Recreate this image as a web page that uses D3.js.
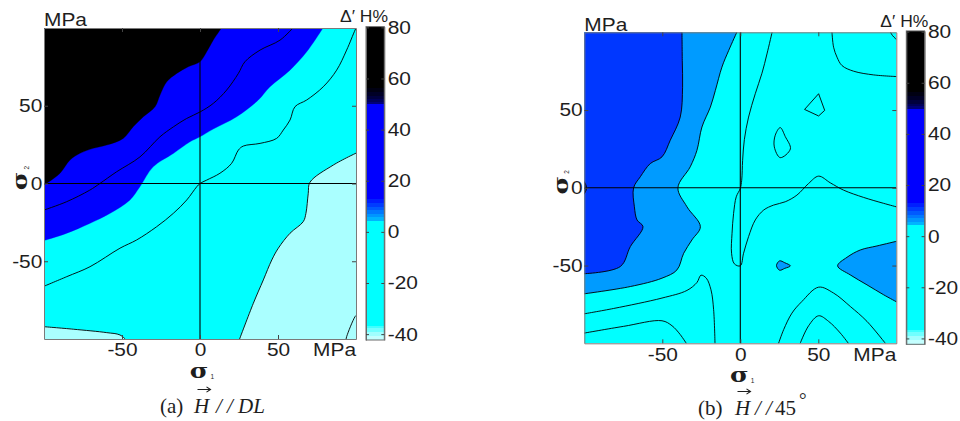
<!DOCTYPE html>
<html>
<head>
<meta charset="utf-8">
<script src="https://cdn.jsdelivr.net/npm/d3@7/dist/d3.min.js"></script>
<style>
html,body{margin:0;padding:0;background:#fff;}
svg{display:block;}
</style>
</head>
<body>
<svg id="chart" width="960" height="421"></svg>
<script>
// ================= DATA (values in MPa / Δ'H %) =================
const sigmaDomain = [-100, 100];
const sigmaTicks = [-50, 0, 50];
const cbarDomain = [-42.3, 80.3];
const cbarTicks = [-40, -20, 0, 20, 40, 60, 80];
// colour-map band limits (Δ'H %) and band colours
const cbarLevels = [-42.3, -40.5, -39, -37.5, -36.5, 4.5, 5.8, 7.2, 8.6, 10, 11.5, 13, 50, 51, 52, 53.5, 55, 56.5, 80.3];
const cbarColors = ['#c4ffff', '#a0ffff', '#70ffff', '#40ffff', '#00ffff', '#00b4ff', '#0096ff', '#0078ff',
                    '#005aff', '#003cff', '#001eff', '#0000ff', '#00007a', '#00005a', '#00003e', '#000026', '#000012', '#000000'];

// ---- panel (a) H // DL : contour boundaries as [sigma1, sigma2] ----
const aBlackEdge = [[-101,-1.5],[-97,1],[-89.7,6.6],[-83.3,15.1],[-76.9,19.4],[-68.4,22.6],[-59.8,24.7],[-49.2,29.0],
  [-42.8,36.5],[-36.3,42.9],[-28.8,49.4],[-25.6,56.9],[-21.3,65.4],[-14.9,70.8],[-7.5,75.1],[0,78.3],[4.3,84.7],[8.5,92.2],[14.5,101]];
const aBlueEdge = [[-101,-37],[-85.7,-32.1],[-70.7,-25.7],[-57.8,-19.3],[-45.0,-10.7],[-38.5,-2.1],[-30.0,10.7],[-17.1,19.3],
  [-6.4,26.8],[0,30.0],[8.5,35],[23.5,42.9],[37.4,53.7],[44.9,62.2],[57.7,72.9],[68.4,84.7],[79.5,101]];
const aLineUpper = [[-101,-17.4],[-85.7,-11.8],[-70.7,-4.3],[-64.2,0],[-53.5,7.5],[-38.5,17.1],[-25.7,30.0],[-17.1,36.4],
  [-8.6,41.8],[0,46.0],[8.5,51.5],[17.1,60.1],[24.6,70.8],[28.8,78.3],[38.5,85.8],[51.3,92.2],[60.5,101]];
const aLineDiag = [[100.5,101],[99.4,98.7],[94.0,85.8],[87.6,72.9],[79.0,62.2],[68.4,53.7],[60.9,49.4],[57.7,40.8],[53.4,34.4],
  [49.1,29.0],[38.5,25.8],[27.8,24.1],[24.6,21.5],[20.3,13.0],[12.8,6.6],[4.3,2.2],[0,0],[-2.1,-2.1],[-8.5,-10.6],[-17.1,-19.2],
  [-27.8,-27.8],[-40.6,-36.3],[-51.3,-41.6],[-70.5,-53.5],[-85.4,-59.9],[-101,-66.5]];
const aLightEdgeR = [[101,20],[85.5,11.9],[70.5,0.8],[69.4,-6.3],[67.9,-19.2],[66.2,-24.5],[57.7,-32],[50.2,-41.6],[46,-49.2],
  [40.6,-62],[34.2,-77],[25,-101]];
const aLightEdgeL = [[-101,-92],[-81.2,-93.7],[-59.8,-95.9],[-51.3,-97.4],[-47,-101]];
const aCornerLine = [[100.5,-84.5],[99.4,-85.6],[94,-98.5],[93.5,-101]];

// ---- panel (b) H // 45° ----
const bDarkEdge = [[-37.4,101],[-37.2,82],[-37.0,64.7],[-38.5,45.5],[-44.9,30.6],[-50.2,19.9],[-57.7,15.6],[-64.1,7.1],
  [-68.4,0],[-67.9,-12.2],[-66.2,-20.7],[-62.4,-25.0],[-70.5,-37.8],[-76.9,-50.6],[-101,-55.3]];
const bMedEdge = [[-1.8,101],[-7.5,88.2],[-11.8,77.6],[-16.0,62.6],[-19.2,51.9],[-24.6,39.1],[-27.8,24.1],[-32.1,13.5],
  [-40.0,0],[-34.2,-12.2],[-25.6,-25.0],[-31.0,-33.5],[-36.3,-42.1],[-40.6,-52.8],[-50.2,-58.1],[-70.5,-63.5],[-101,-68.3]];
const bNavySpot = [[-101,5],[-99.5,3],[-98.6,0],[-99.5,-3],[-101,-5]];
const bMedRight = [[101,-34.2],[87.6,-37.4],[76.9,-40.0],[68.4,-44.7],[62.4,-50.2],[70.5,-56.0],[81.2,-62.4],[91.9,-68.8],[101,-73.8]];
const bMedIsland = [[23.2,-50],[25.2,-47],[28.5,-48.2],[32.1,-50.2],[28.5,-51.8],[25.2,-53]];
const bLine1 = [[20.6,101],[17.1,86.1],[13.9,73.7],[9.6,60.5],[5.3,45.5],[2.6,31.0],[1.5,17.7],[0.9,4.9],[0,-0.4],[-2.6,-5.8],
  [-4.3,-16.5],[-5.3,-29.3],[-5.6,-42.1],[-3.8,-48.9],[0,-50.2],[2.1,-42.1],[5.3,-31.4],[9.6,-20.7],[15.0,-14.3],[21.4,-11.1],
  [28.8,-9.0],[36.3,-4.7],[43.8,2.8],[50.2,7.5],[57.7,3.2],[66.2,-1.5],[79.1,-6.2],[91.9,-10.0],[101,-12.5]];
const bLine2 = [[58.7,101],[59.8,90.4],[62.0,84.0],[65.2,78.6],[72.6,75.0],[85.5,72.6],[101,71.5]];
const bLineCorner = [[95.8,101],[97.5,98],[101,94.5]];
const bLine3 = [[24.2,-101],[27.8,-91.2],[33.1,-80.6],[39.5,-73.1],[50.2,-63.9],[59.8,-67.7],[70.5,-76.3],[81.2,-85.9],[94,-101.3]];
const bLine4 = [[38,-101],[43.8,-88.7],[50.2,-82.3],[56.6,-85.9],[64.1,-93.4],[70,-101]];
const bLine5 = [[-101,-81.2],[-81.2,-77.6],[-50.2,-70.9],[-34.2,-66.0],[-27.8,-60.9],[-25.2,-56.2],[-21.8,-58.1],[-18.8,-65.6],
  [-17.1,-78.4],[-16.2,-101]];
const bLine6 = [[-101,-93.6],[-74.8,-89.1],[-50.2,-85.5],[-43.8,-88.7],[-38.5,-94.4],[-34,-101]];
const bIsland1 = [[50.2,60.5],[54.1,49.8],[50.2,46.2],[41.2,50.4]];
const bIsland2 = [[25.6,38.7],[28.8,33],[32.1,25.0],[25.6,19.4],[21.8,26.3],[22.4,33.8]];

// ================= STYLE =================
const CYAN = '#00ffff', LIGHTCYAN = '#aaffff', BLUE = '#0000ff', BLACK = '#000000',
      DARKBLUE = '#0037ff', MIDBLUE = '#009bff', NAVY = '#001a80';
const SANS = '"Liberation Sans", Arial, Helvetica, sans-serif';
const SERIF = '"Liberation Serif", "Times New Roman", serif';
const TXT = '#1e1e1e';
const PW = 312, PH = 311;
const SX = 1.13;

const panels = [
  { id: 'a', ox: 44, oy: 28, bg: CYAN,
    fills: [
      { pts: aLightEdgeR, corners: [[101,-101]], color: LIGHTCYAN },
      { pts: aLightEdgeL, corners: [[-101,-101]], color: LIGHTCYAN },
      { pts: aBlueEdge, corners: [[-101,101]], color: BLUE },
      { pts: aBlackEdge, corners: [[-101,101]], color: BLACK }
    ],
    lines: [
      { pts: aLineUpper }, { pts: aLineDiag }, { pts: aLightEdgeR }, { pts: aLightEdgeL }, { pts: aCornerLine }
    ]
  },
  { id: 'b', ox: 584.3, oy: 32.3, bg: CYAN,
    fills: [
      { pts: bMedEdge, corners: [[-101,101]], color: MIDBLUE },
      { pts: bDarkEdge, corners: [[-101,101]], color: DARKBLUE },
      { pts: bNavySpot, corners: [], color: NAVY },
      { pts: bMedRight, corners: [], color: MIDBLUE },
      { pts: bMedIsland, closed: true, color: MIDBLUE }
    ],
    lines: [
      { pts: bDarkEdge }, { pts: bMedEdge }, { pts: bNavySpot }, { pts: bMedRight }, { pts: bMedIsland, closed: true },
      { pts: bLine1 }, { pts: bLine2 }, { pts: bLineCorner }, { pts: bLine3 }, { pts: bLine4 }, { pts: bLine5 }, { pts: bLine6 },
      { pts: bIsland1, closed: true, linear: true }, { pts: bIsland2, closed: true }
    ]
  }
];

const svg = d3.select('#chart');

function txt(sel, x, y, s, opt) {
  opt = opt || {};
  const sx = opt.sx || 1;
  return sel.append('text')
    .attr('transform', `translate(${x},${y})${opt.rotate ? ' rotate(' + opt.rotate + ')' : ''} scale(${sx},1)`)
    .attr('font-family', opt.family || SANS)
    .attr('font-size', opt.size || 18.5)
    .attr('font-style', opt.italic ? 'italic' : null)
    .attr('font-weight', opt.bold ? 'bold' : null)
    .attr('text-anchor', opt.anchor || 'start')
    .attr('fill', TXT)
    .text(s);
}

function drawPanel(p) {
  const g = svg.append('g').attr('transform', `translate(${p.ox},${p.oy})`);
  const x = d3.scaleLinear().domain(sigmaDomain).range([0, PW]);
  const y = d3.scaleLinear().domain(sigmaDomain).range([PH, 0]);
  const clipId = 'clip-' + p.id;
  g.append('clipPath').attr('id', clipId).append('rect').attr('width', PW).attr('height', PH);
  const plot = g.append('g').attr('clip-path', `url(#${clipId})`);

  plot.append('rect').attr('x', x(sigmaDomain[0])).attr('y', y(sigmaDomain[1]))
    .attr('width', x(sigmaDomain[1]) - x(sigmaDomain[0])).attr('height', y(sigmaDomain[0]) - y(sigmaDomain[1]))
    .attr('fill', p.bg);

  const openLine = d3.line().x(d => x(d[0])).y(d => y(d[1])).curve(d3.curveCatmullRom.alpha(0.5));
  const closedLine = d3.line().x(d => x(d[0])).y(d => y(d[1])).curve(d3.curveCatmullRomClosed.alpha(0.5));
  const linClosed = d3.line().x(d => x(d[0])).y(d => y(d[1])).curve(d3.curveLinearClosed);

  p.fills.forEach(f => {
    let d;
    if (f.closed) d = closedLine(f.pts);
    else d = openLine(f.pts) + f.corners.map(c => `L${x(c[0])},${y(c[1])}`).join('') + 'Z';
    plot.append('path').attr('d', d).attr('fill', f.color).attr('stroke', f.color).attr('stroke-width', 0.3);
  });

  p.lines.forEach(l => {
    const gen = l.closed ? (l.linear ? linClosed : closedLine) : openLine;
    plot.append('path').attr('d', gen(l.pts)).attr('fill', 'none')
      .attr('stroke', '#000').attr('stroke-width', 0.9).attr('stroke-linejoin', 'round');
  });

  // zero cross-hair
  plot.append('line').attr('x1', x(0)).attr('x2', x(0)).attr('y1', y(sigmaDomain[0])).attr('y2', y(sigmaDomain[1]))
    .attr('stroke', '#000').attr('stroke-width', 1.1);
  plot.append('line').attr('x1', x(sigmaDomain[0])).attr('x2', x(sigmaDomain[1])).attr('y1', y(0)).attr('y2', y(0))
    .attr('stroke', '#000').attr('stroke-width', 1.1);

  // axes (inward ticks on all four sides)
  const fmt = d => String(d);
  const style = ax => {
    ax.attr('font-family', SANS).attr('font-size', 18.5);
    ax.select('.domain').attr('stroke', '#7a7a7a');
    ax.selectAll('.tick line').attr('stroke', '#444');
    ax.selectAll('.tick text').attr('fill', TXT).attr('transform', `scale(${SX},1)`);
  };
  g.append('g').attr('transform', `translate(0,${PH})`)
    .call(d3.axisBottom(x).tickValues(sigmaTicks).tickSize(-4).tickSizeOuter(0).tickPadding(4.2).tickFormat(fmt)).call(style);
  g.append('g')
    .call(d3.axisLeft(y).tickValues(sigmaTicks).tickSize(-4).tickSizeOuter(0).tickPadding(1.5).tickFormat(fmt)).call(style);
  g.append('g')
    .call(d3.axisTop(x).tickValues(sigmaTicks).tickSize(-4).tickSizeOuter(0).tickFormat('')).call(style);
  g.append('g').attr('transform', `translate(${PW},0)`)
    .call(d3.axisRight(y).tickValues(sigmaTicks).tickSize(-4).tickSizeOuter(0).tickFormat('')).call(style);

  // unit labels
  txt(g, 0, -1.8, 'MPa', { sx: SX });
  txt(g, PW, PH + 17.4, 'MPa', { sx: SX, anchor: 'end' });

  // axis titles σ1 / σ2
  txt(g, 155, 350, 'σ', { family: '"DejaVu Serif", serif', size: 20, bold: true, anchor: 'middle', sx: 1.26 });
  txt(g, 166.5, 351, '1', { family: SANS, size: 6.5 });
  txt(g, -16.8, 153, 'σ', { family: '"DejaVu Serif", serif', size: 21, bold: true, anchor: 'middle', sx: 1.2, rotate: -90 });
  txt(g, -15.5, 141.5, '2', { family: SANS, size: 6.5, rotate: -90 });

  // colour bar
  const cb = g.append('g').attr('transform', `translate(322,0)`);
  const CBW = 18.3;
  const cs = d3.scaleLinear().domain(cbarDomain).range([312, -1.4]);
  cbarColors.forEach((c, i) => {
    cb.append('rect').attr('x', 0).attr('width', CBW)
      .attr('y', cs(cbarLevels[i + 1])).attr('height', cs(cbarLevels[i]) - cs(cbarLevels[i + 1]) + 0.4)
      .attr('fill', c).attr('shape-rendering', 'crispEdges');
  });
  cb.append('rect').attr('x', 0).attr('y', cs(cbarDomain[1])).attr('width', CBW)
    .attr('height', cs(cbarDomain[0]) - cs(cbarDomain[1])).attr('fill', 'none').attr('stroke', '#6a6a6a').attr('stroke-width', 1);
  cb.append('g').attr('transform', `translate(${CBW},0)`)
    .call(d3.axisRight(cs).tickValues(cbarTicks).tickSize(-3).tickSizeOuter(0).tickPadding(3).tickFormat(fmt)).call(style);
  cb.append('g')
    .call(d3.axisLeft(cs).tickValues(cbarTicks).tickSize(-3).tickSizeOuter(0).tickFormat('')).call(style);
  cb.selectAll('.domain').attr('stroke', '#6a6a6a');

  // colour-bar title
  txt(g, 296, -5.6, 'Δ′ H%', { size: 17, sx: 1.03 });
}

panels.forEach(drawPanel);

// captions (vector arrow over H drawn as a small path)
function caption(base, arrowX0, pieces) {
  pieces.forEach(pc => {
    const t = txt(svg, pc.x, base, pc.t, { family: SERIF, size: 21, italic: pc.italic });
    if (pc.sup) {
      t.text(null);
      t.append('tspan').text(pc.t);
      t.append('tspan').attr('font-size', 19).attr('dx', 3).attr('dy', -9).text(pc.sup);
    }
  });
  const ay = base - 23.5, ax1 = arrowX0 + 13;
  svg.append('path')
    .attr('d', `M${arrowX0},${ay}L${ax1},${ay}M${ax1 - 4},${ay - 2.6}L${ax1},${ay}L${ax1 - 4},${ay + 2.6}`)
    .attr('fill', 'none').attr('stroke', TXT).attr('stroke-width', 1.1);
}
caption(413, 197.5, [
  { x: 160, t: '(a)' }, { x: 194, t: 'H', italic: true }, { x: 216, t: '/ /', italic: true }, { x: 238, t: 'DL', italic: true }
]);
caption(415, 737.5, [
  { x: 698, t: '(b)' }, { x: 735, t: 'H', italic: true }, { x: 755, t: '/ /', italic: true }, { x: 775, t: '45', sup: '°' }
]);
</script>
</body>
</html>
